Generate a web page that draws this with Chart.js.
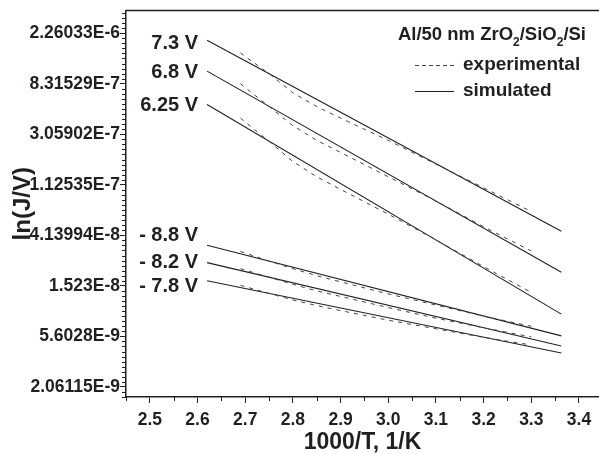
<!DOCTYPE html>
<html>
<head>
<meta charset="utf-8">
<script src="https://cdn.jsdelivr.net/npm/chart.js@4.4.0/dist/chart.umd.min.js"></script>
<style>
  html, body { margin: 0; padding: 0; background: #fff; }
</style>
</head>
<body>
<canvas id="myChart" width="599" height="454"></canvas>
<script>
// series names (bias voltage)
var voltages = ['7.3 V', '6.8 V', '6.25 V', '- 8.8 V', '- 8.2 V', '- 7.8 V'];

// simulated, ln(J/V) at both ends of the fitted lines
var simX = [2.62, 3.363];
var sim73 = [-13.14, -16.92];
var sim68 = [-13.75, -17.73];
var sim625 = [-14.41, -18.56];
var simN88 = [-17.195, -18.99];
var simN82 = [-17.54, -19.19];
var simN78 = [-17.90, -19.33];

// experimental, ln(J/V)
var expX = [2.69, 2.75, 2.80, 2.85, 2.90, 3.00, 3.10, 3.20, 3.30];
var exp73 = [-13.39, -13.80, -14.18, -14.45, -14.68, -15.12, -15.59, -16.06, -16.53];
var exp68 = [-14.00, -14.45, -14.83, -15.12, -15.36, -15.84, -16.32, -16.83, -17.31];
var exp625 = [-14.68, -15.14, -15.54, -15.84, -16.09, -16.58, -17.09, -17.62, -18.13];
var expN88 = [-17.32, -17.51, -17.66, -17.80, -17.92, -18.16, -18.38, -18.60, -18.80];
var expN82 = [-17.66, -17.83, -17.97, -18.10, -18.21, -18.43, -18.64, -18.83, -19.01];
var expN78 = [-17.99, -18.15, -18.28, -18.39, -18.49, -18.68, -18.85, -19.02, -19.17];

// axis ticks
var xTicks = [2.5, 2.6, 2.7, 2.8, 2.9, 3.0, 3.1, 3.2, 3.3, 3.4];
var yTickValues = [-13, -14, -15, -16, -17, -18, -19, -20];
var yTickLabels = ['2.26033E-6', '8.31529E-7', '3.05902E-7', '1.12535E-7',
                   '4.13994E-8', '1.523E-8', '5.6028E-9', '2.06115E-9'];

var ink = '#231f20';
var simSeries = [sim73, sim68, sim625, simN88, simN82, simN78];
var expSeries = [exp73, exp68, exp625, expN88, expN82, expN78];

function toPoints(xs, ys) {
    return xs.map(function (x, i) { return { x: x, y: ys[i] }; });
}

var datasets = [];
voltages.forEach(function (v, i) {
    datasets.push({
        label: v + ' experimental',
        data: toPoints(expX, expSeries[i]),
        borderColor: '#444',
        borderWidth: 1,
        borderDash: [4, 5],
        pointRadius: 0,
        showLine: true
    });
    datasets.push({
        label: v + ' simulated',
        data: toPoints(simX, simSeries[i]),
        borderColor: ink,
        borderWidth: 1.1,
        pointRadius: 0,
        showLine: true
    });
});

var labelOffsets = [3, 1, 1, -10, 0, 6];

var extras = {
    id: 'extras',
    afterDraw: function (chart) {
        var c = chart.ctx;
        var xs = chart.scales.x, ys = chart.scales.y, area = chart.chartArea;
        c.save();
        c.strokeStyle = ink;
        c.fillStyle = ink;

        // top frame line
        c.lineWidth = 1.5;
        c.beginPath();
        c.moveTo(area.left, area.top);
        c.lineTo(area.right, area.top);
        c.stroke();

        // minor ticks
        c.lineWidth = 1;
        c.beginPath();
        for (var k = 0; k < 20; k++) {
            var xv = 2.45 + k * 0.1;
            if (xv > xs.max) break;
            var px = Math.round(xs.getPixelForValue(xv)) + 0.5;
            c.moveTo(px, area.bottom);
            c.lineTo(px, area.bottom + 4);
        }
        for (var j = -202; j <= -126; j++) {
            if (j % 10 === 0) continue;
            var py = Math.round(ys.getPixelForValue(j / 10)) + 0.5;
            c.moveTo(area.left, py);
            c.lineTo(area.left - 4, py);
        }
        c.stroke();

        // voltage labels
        c.font = 'bold 20px "Liberation Sans", Arial, sans-serif';
        c.textAlign = 'right';
        c.textBaseline = 'middle';
        voltages.forEach(function (v, i) {
            var lx = xs.getPixelForValue(simX[0]) - 9;
            var ly = ys.getPixelForValue(simSeries[i][0]) + labelOffsets[i];
            c.fillText(v, lx, ly);
        });

        // legend title with subscripts
        var big = 'bold 18.5px "Liberation Sans", Arial, sans-serif';
        var small = 'bold 12px "Liberation Sans", Arial, sans-serif';
        var parts = [['Al/50 nm ZrO', big, 0], ['2', small, 6], ['/SiO', big, 0], ['2', small, 6], ['/Si', big, 0]];
        var total = 0;
        parts.forEach(function (p) { c.font = p[1]; total += c.measureText(p[0]).width; });
        var tx = 586 - total;
        c.textAlign = 'left';
        c.textBaseline = 'alphabetic';
        parts.forEach(function (p) {
            c.font = p[1];
            c.fillText(p[0], tx, 40 + p[2]);
            tx += c.measureText(p[0]).width;
        });

        // legend entries
        c.font = 'bold 19px "Liberation Sans", Arial, sans-serif';
        c.textBaseline = 'middle';
        c.fillText('experimental', 463, 65);
        c.fillText('simulated', 463, 91);
        c.lineWidth = 1;
        c.strokeStyle = '#444';
        c.setLineDash([4, 3]);
        c.beginPath();
        c.moveTo(415, 65.5);
        c.lineTo(454, 65.5);
        c.stroke();
        c.setLineDash([]);
        c.strokeStyle = ink;
        c.beginPath();
        c.moveTo(415, 91.5);
        c.lineTo(454, 91.5);
        c.stroke();

        c.restore();
    }
};

var ctx = document.getElementById('myChart').getContext('2d');
var tickFont = { family: '"Liberation Sans", Arial, sans-serif', size: 17.5, weight: 'bold' };

var myChart = new Chart(ctx, {
    type: 'scatter',
    data: { datasets: datasets },
    options: {
        responsive: false,
        animation: false,
        layout: { padding: { top: 9, right: 0, left: 0, bottom: 0 } },
        plugins: {
            legend: { display: false },
            tooltip: { enabled: false }
        },
        scales: {
            x: {
                type: 'linear',
                min: 2.45,
                max: 3.442,
                afterBuildTicks: function (scale) {
                    scale.ticks = xTicks.map(function (v) { return { value: v }; });
                },
                afterFit: function (scale) { scale.height = 57; },
                grid: { display: true, drawOnChartArea: false, tickLength: 6, color: ink, tickWidth: 1 },
                border: { display: true, color: ink, width: 1.5 },
                ticks: {
                    color: ink,
                    font: tickFont,
                    padding: 7,
                    autoSkip: false,
                    maxRotation: 0,
                    callback: function (value) { return Number(value).toFixed(1); }
                },
                title: {
                    display: true,
                    text: '1000/T, 1/K',
                    color: ink,
                    font: { family: '"Liberation Sans", Arial, sans-serif', size: 23, weight: 'bold' },
                    padding: { top: -2, bottom: -2 }
                }
            },
            y: {
                type: 'linear',
                min: -20.2,
                max: -12.55,
                afterBuildTicks: function (scale) {
                    scale.ticks = yTickValues.map(function (v) { return { value: v }; });
                },
                afterFit: function (scale) { scale.width = 126; },
                grid: { display: true, drawOnChartArea: false, tickLength: 6, color: ink, tickWidth: 1 },
                border: { display: true, color: ink, width: 1.5 },
                ticks: {
                    color: ink,
                    font: tickFont,
                    padding: 0,
                    autoSkip: false,
                    callback: function (value) {
                        return yTickLabels[yTickValues.indexOf(value)];
                    }
                },
                title: {
                    display: true,
                    text: 'ln(J/V)',
                    color: ink,
                    font: { family: '"Liberation Sans", Arial, sans-serif', size: 24, weight: 'bold' },
                    padding: { top: 9, bottom: 0 }
                }
            }
        }
    },
    plugins: [extras]
});
</script>
</body>
</html>
